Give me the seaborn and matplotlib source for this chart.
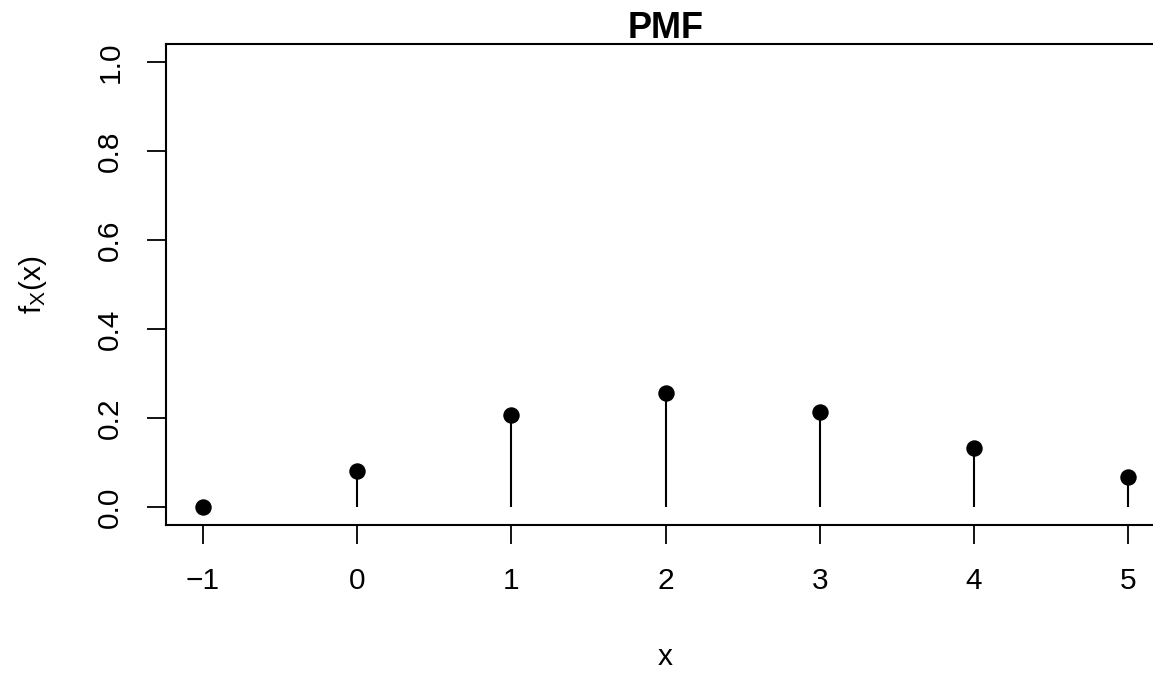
import matplotlib
matplotlib.use('Agg')
import matplotlib.pyplot as plt
import seaborn as sns
import pandas as pd

# PMF values
x_vals = [-1, 0, 1, 2, 3, 4, 5]
pmf_vals = [0.0, 0.082, 0.206, 0.257, 0.2135, 0.134, 0.067]
y_ticks = [0.0, 0.2, 0.4, 0.6, 0.8, 1.0]

df = pd.DataFrame({'x': x_vals, 'p': pmf_vals})

sns.set_style('white')
plt.rcParams['font.family'] = ['Liberation Sans', 'DejaVu Sans']
plt.rcParams['mathtext.fontset'] = 'custom'
plt.rcParams['mathtext.rm'] = 'Liberation Sans'
plt.rcParams['mathtext.it'] = 'Liberation Sans'
plt.rcParams['text.color'] = 'black'
plt.rcParams['axes.labelcolor'] = 'black'
plt.rcParams['xtick.color'] = 'black'
plt.rcParams['ytick.color'] = 'black'

fig = plt.figure(figsize=(11.53, 6.73), dpi=100)
ax = fig.add_axes([0.144, 0.2199, 0.8664, 0.7147])

ax.vlines(df['x'], 0, df['p'], color='black', linewidth=1.5)
sns.scatterplot(data=df, x='x', y='p', color='black', s=140, edgecolor='black',
                linewidth=0, zorder=3, ax=ax, legend=False)

ax.set_xlim(-1.24, 5.24)
ax.set_ylim(-0.04, 1.04)
ax.set_xticks(x_vals)
ax.set_xticklabels(['\u22121' if v < 0 else str(v) for v in x_vals])
ax.set_yticks(y_ticks)
ax.set_yticklabels([f'{v:.1f}' for v in y_ticks], rotation=90, va='center')

for side in ['left', 'bottom', 'top', 'right']:
    ax.spines[side].set_visible(True)
    ax.spines[side].set_color('black')
    ax.spines[side].set_linewidth(1.5)

ax.tick_params(axis='both', direction='out', length=14, width=1.3,
               color='black', labelcolor='black', labelsize=21.5, pad=16,
               left=True, bottom=True)

ax.set_title('PMF', fontsize=26, fontweight='bold', pad=4, color='black')
ax.set_xlabel('x', fontsize=21.5, labelpad=35)
ax.set_ylabel(r'$\mathregular{f_X(x)}$', fontsize=21.5, labelpad=34)

fig.savefig('out.png', dpi=100)
